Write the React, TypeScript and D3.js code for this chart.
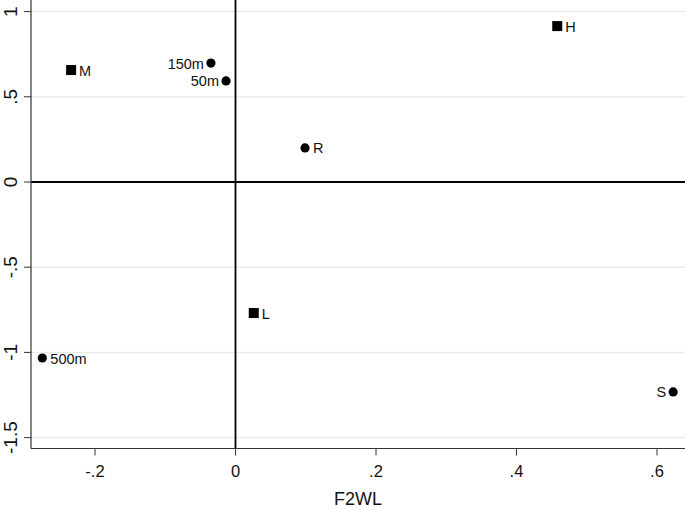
import React from "react";
import * as d3 from "d3";

const labels = ["M", "150m", "50m", "H", "R", "L", "500m", "S"];
const xVals = [-0.234, -0.035, -0.0135, 0.458, 0.099, 0.026, -0.275, 0.623];
const yVals = [0.657, 0.698, 0.593, 0.915, 0.2, -0.769, -1.033, -1.232];
const shapes = ["square", "circle", "circle", "square", "circle", "square", "circle", "circle"];
const labelSide = ["right", "left", "left", "right", "right", "right", "right", "left"];
const xTicks = [-0.2, 0, 0.2, 0.4, 0.6];
const xTickLabels = ["-.2", "0", ".2", ".4", ".6"];
const yTicks = [1, 0.5, 0, -0.5, -1, -1.5];
const yTickLabels = ["1", ".5", "0", "-.5", "-1", "-1.5"];

export default function App() {
  const W = 685, H = 510;
  const x = d3.scaleLinear().domain([0, 0.2]).range([235.5, 376]);
  const y = d3.scaleLinear().domain([0, 0.5]).range([182, 96.8]);
  const left = 31, bottom = 448.5, right = W, top = 0;
  const font = "Liberation Sans, Arial, sans-serif";
  return (
    <svg width={W} height={H} style={{ position: "absolute", left: 0, top: 0, background: "#fff" }} fontFamily={font}>
      <rect x={0} y={0} width={W} height={H} fill="#fff" />
      {yTicks.map((t) => (
        <line key={"g" + t} x1={left} x2={right} y1={y(t)} y2={y(t)} stroke="#eaeaea" strokeWidth={1.5} />
      ))}
      {/* zero lines */}
      <line x1={left} x2={right} y1={y(0)} y2={y(0)} stroke="#000" strokeWidth={1.8} />
      <line x1={x(0)} x2={x(0)} y1={top} y2={bottom} stroke="#000" strokeWidth={1.8} />
      {/* axes */}
      <line x1={left} x2={left} y1={top} y2={bottom} stroke="#333" strokeWidth={1.2} />
      <line x1={left} x2={right} y1={bottom} y2={bottom} stroke="#333" strokeWidth={1.2} />
      {yTicks.map((t, i) => (
        <g key={"y" + t}>
          <line x1={left - 7} x2={left} y1={y(t)} y2={y(t)} stroke="#333" strokeWidth={1} />
          <text
            transform={`translate(${left - 14},${y(t)}) rotate(-90)`}
            textAnchor="middle"
            fontSize={19}
            fill="#111"
          >
            {yTickLabels[i]}
          </text>
        </g>
      ))}
      {xTicks.map((t, i) => (
        <g key={"x" + t}>
          <line x1={x(t)} x2={x(t)} y1={bottom} y2={bottom + 7} stroke="#333" strokeWidth={1} />
          <text x={x(t)} y={bottom + 28} textAnchor="middle" fontSize={16.5} fill="#111">
            {xTickLabels[i]}
          </text>
        </g>
      ))}
      <text x={358} y={505} textAnchor="middle" fontSize={18} fill="#111">
        F2WL
      </text>
      {labels.map((l, i) => {
        const px = x(xVals[i]);
        const py = y(yVals[i]);
        const isLeft = labelSide[i] === "left";
        return (
          <g key={l}>
            {shapes[i] === "square" ? (
              <rect x={px - 5} y={py - 5} width={10} height={10} fill="#000" />
            ) : (
              <circle cx={px} cy={py} r={4.6} fill="#000" />
            )}
            <text
              x={isLeft ? px - 7 : px + 8}
              y={py + 5.5}
              textAnchor={isLeft ? "end" : "start"}
              fontSize={14.5}
              fill="#111"
            >
              {l}
            </text>
          </g>
        );
      })}
    </svg>
  );
}
